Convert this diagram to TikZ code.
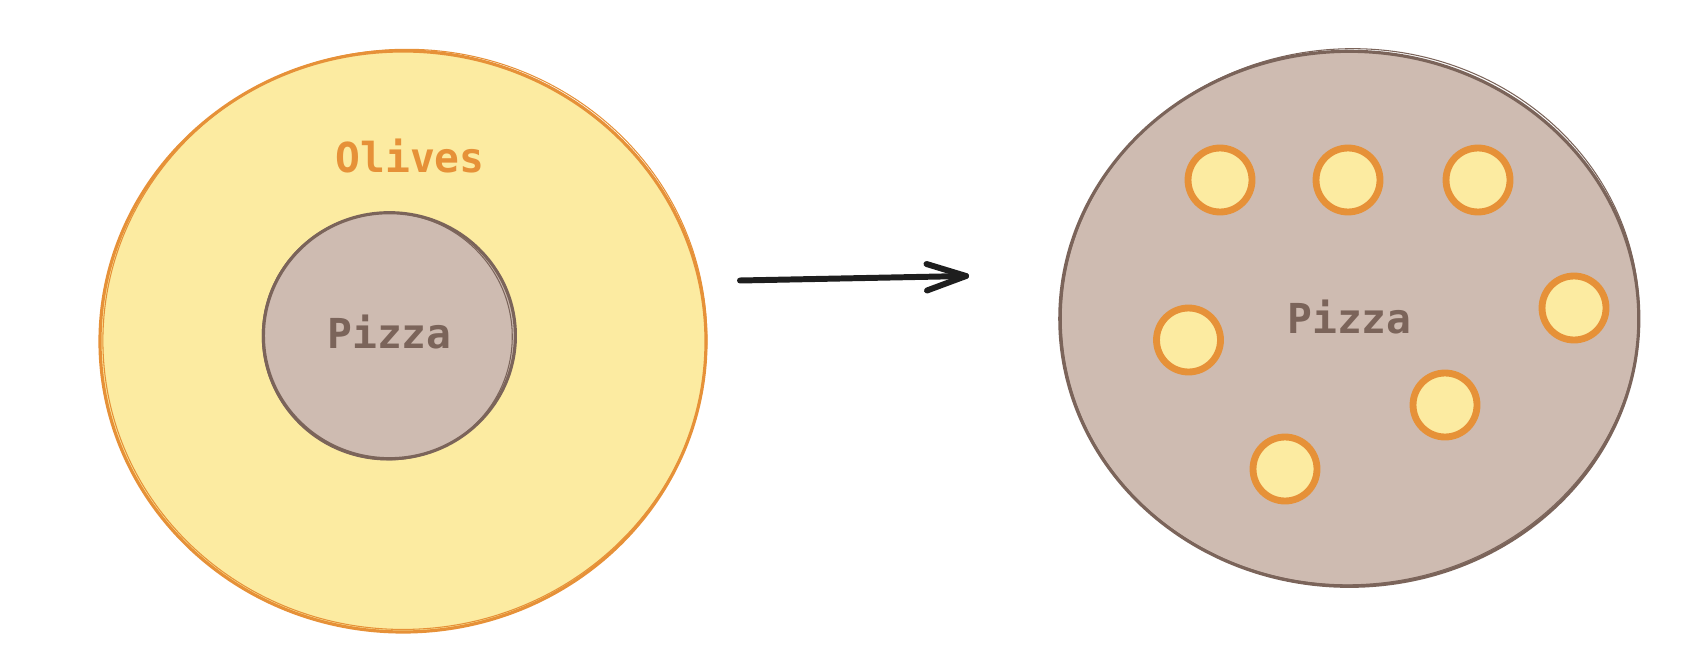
\documentclass[tikz,border=0pt]{standalone}
\usepackage{fontspec}
\setmonofont{DejaVu Sans Mono}
\definecolor{olivefill}{HTML}{FCEBA1}
\definecolor{olivestroke}{HTML}{E69138}
\definecolor{pizzafill}{HTML}{CEBBB1}
\definecolor{pizzastroke}{HTML}{7B645A}
\definecolor{ink}{HTML}{1E1E1E}
\tikzset{
  blob/.style={line width=1.8pt},
  oliveset/.style={blob, fill=olivefill, draw=olivestroke},
  pizzaset/.style={blob, fill=pizzafill, draw=pizzastroke},
  sketchline/.style={line width=0.6pt},
  olive/.style={circle, inner sep=0pt, minimum size=1.28cm, fill=olivefill, draw=olivestroke, line width=3.9pt},
  lbl/.style={font=\ttfamily\bfseries\fontsize{23.5}{28}\selectfont, inner sep=0pt},
  flow/.style={draw=ink, line width=3.4pt, line cap=round, line join=round}
}
\begin{document}
\begin{tikzpicture}[x=0.02cm,y=-0.02cm]
\useasboundingbox (0,0) rectangle (1692,662);
% ---------- left: olives set containing pizza ----------
\coordinate (cOut) at (403,341.5);
\coordinate (cIn) at (389.4,335.7);
\path[oliveset] (cOut) ellipse [x radius=303, y radius=290.5];
\draw[olivestroke, sketchline, rotate around={4:(cOut)}] ([shift={(2,-2)}]cOut) ellipse [x radius=302, y radius=290];
\path[pizzaset] (cIn) ellipse [x radius=126, y radius=123];
\draw[pizzastroke, sketchline, rotate around={-8:(cIn)}] ([shift={(-2,1)}]cIn) ellipse [x radius=125, y radius=123.5];
\node[lbl, text=olivestroke] (olivestext) at (410,156) {Olives};
\node[lbl, text=pizzastroke] (pizzatext1) at (389.5,332) {Pizza};
% ---------- arrow ----------
\coordinate (a1) at (740,280.5);
\coordinate (a2) at (966,276);
\coordinate (h1) at (926.5,264);
\coordinate (h2) at (927,290.5);
\draw[flow] (a1) -- (a2);
\draw[flow] (h1) -- (a2) -- (h2);
% ---------- right: pizza with olives ----------
\coordinate (cPz) at (1349.3,318.8);
\path[pizzaset] (cPz) ellipse [x radius=289.5, y radius=267.5];
\draw[pizzastroke, sketchline, rotate around={3:(cPz)}] ([shift={(1,-2)}]cPz) ellipse [x radius=289, y radius=268];
\node[lbl, text=pizzastroke] (pizzatext2) at (1349.5,317) {Pizza};
\node[olive] (o1) at (1220,180) {};
\node[olive] (o2) at (1348,180) {};
\node[olive] (o3) at (1478,180) {};
\node[olive] (o4) at (1574,308) {};
\node[olive] (o5) at (1188.5,340) {};
\node[olive] (o6) at (1445,405) {};
\node[olive] (o7) at (1285,469) {};
\end{tikzpicture}
\end{document}
